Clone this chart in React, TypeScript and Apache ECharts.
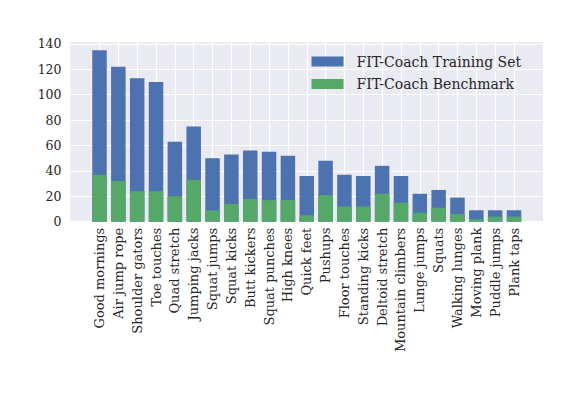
import { useEffect, useRef } from "react";
import * as echarts from "echarts";

// exercise names, in plotted order
const categories = [
  "Good mornings",
  "Air jump rope",
  "Shoulder gators",
  "Toe touches",
  "Quad stretch",
  "Jumping jacks",
  "Squat jumps",
  "Squat kicks",
  "Butt kickers",
  "Squat punches",
  "High knees",
  "Quick feet",
  "Pushups",
  "Floor touches",
  "Standing kicks",
  "Deltoid stretch",
  "Mountain climbers",
  "Lunge jumps",
  "Squats",
  "Walking lunges",
  "Moving plank",
  "Puddle jumps",
  "Plank taps",
];

const trainingSet = [135, 122, 113, 110, 63, 75, 50, 53, 56, 55, 52, 36, 48, 37, 36, 44, 36, 22, 25, 19, 9, 9, 9];
const benchmark = [37, 32, 24, 24, 20, 33, 9, 14, 18, 17, 17, 5, 21, 12, 12, 22, 15, 7, 11, 6, 2, 4, 4];

const yTicks = { min: 0, max: 141.75, step: 20 };

const FONT = "DejaVu Serif";
const TEXT = "#262626";

export default function App() {
  const ref = useRef<HTMLDivElement>(null);

  useEffect(() => {
    if (!ref.current) return;
    const chart = echarts.init(ref.current, null, { renderer: "svg" });
    chart.setOption({
      animation: false,
      backgroundColor: "#ffffff",
      textStyle: { fontFamily: FONT, color: TEXT },
      legend: {
        left: 311.5,
        top: 54.5,
        padding: 0,
        orient: "vertical",
        itemWidth: 32,
        itemHeight: 10,
        itemGap: 8.5,
        icon: "rect",
        textStyle: { fontFamily: FONT, fontSize: 14, color: TEXT, padding: [0, 0, 0, 8] },
        data: ["FIT-Coach Training Set", "FIT-Coach Benchmark"],
      },
      grid: [
        // bars: category ticks sit on bar centres
        { left: 99.5, right: 68, top: 41.7, bottom: 178.3 },
        // background panel with horizontal grid lines
        {
          left: 70.5,
          right: 39,
          top: 41.7,
          bottom: 178.3,
          show: true,
          backgroundColor: "#EAEAF2",
          borderWidth: 0,
          z: -1,
        },
      ],
      xAxis: [
        {
          type: "category",
          gridIndex: 0,
          data: categories,
          boundaryGap: false,
          axisLine: { show: false },
          axisTick: { show: false },
          axisLabel: {
            rotate: 90,
            interval: 0,
            margin: 6,
            fontFamily: FONT,
            fontSize: 13,
            color: TEXT,
          },
          splitLine: { show: true, interval: 0, lineStyle: { color: "#ffffff", width: 1.2 } },
        },
        { type: "value", gridIndex: 1, show: false, min: 0, max: 1 },
      ],
      yAxis: [
        { type: "value", gridIndex: 0, min: yTicks.min, max: yTicks.max, show: false },
        {
          type: "value",
          gridIndex: 1,
          min: yTicks.min,
          max: yTicks.max,
          interval: yTicks.step,
          axisLine: { show: false },
          axisTick: { show: false },
          axisLabel: {
            margin: 9,
            fontFamily: FONT,
            fontSize: 12.5,
            color: TEXT,
            showMaxLabel: false,
          },
          splitLine: { show: true, lineStyle: { color: "#ffffff", width: 1.2 } },
        },
      ],
      series: [
        {
          name: "FIT-Coach Training Set",
          type: "bar",
          xAxisIndex: 0,
          yAxisIndex: 0,
          data: trainingSet,
          barWidth: 14.5,
          clip: false,
          itemStyle: { color: "#4C72B0" },
        },
        {
          name: "FIT-Coach Benchmark",
          type: "bar",
          xAxisIndex: 0,
          yAxisIndex: 0,
          data: benchmark,
          barWidth: 14.5,
          barGap: "-100%",
          clip: false,
          itemStyle: { color: "#55A868" },
        },
      ],
    });
    return () => chart.dispose();
  }, []);

  return (
    <div
      ref={ref}
      style={{ position: "absolute", left: 0, top: 0, width: 582, height: 400 }}
    />
  );
}
